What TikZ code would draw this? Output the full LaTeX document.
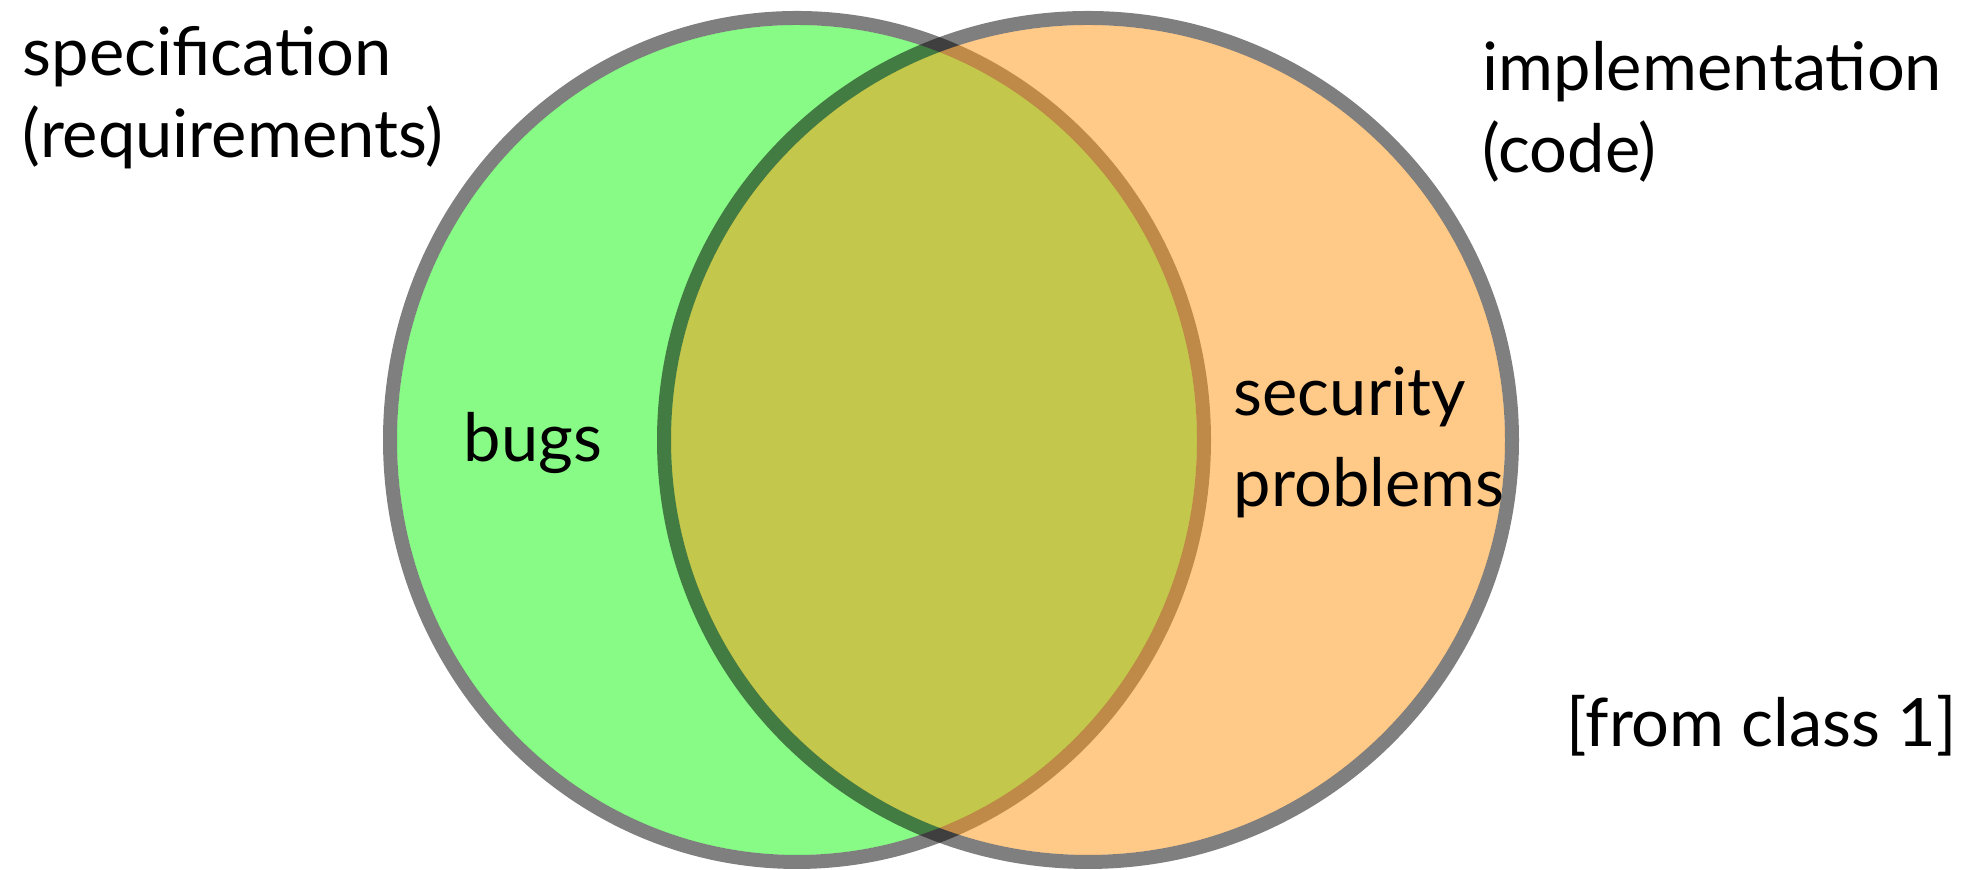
\documentclass[tikz,border=0pt]{standalone}
\usepackage{fontspec}
\setmainfont{Lato}
\usetikzlibrary{shapes.geometric}

\definecolor{specgreen}{RGB}{136,250,134}
\definecolor{implorange}{RGB}{255,149,17}

\tikzset{
  setfill/.style={ellipse, inner sep=0pt, outer sep=0pt},
  setcircle/.style={ellipse, inner sep=0pt, line width=0.14cm,
    draw=black, draw opacity=0.5},
  lbl/.style={inner sep=0pt, anchor=base west, align=left,
    font=\fontsize{19}{23.6}\selectfont}
}

\begin{document}
\begin{tikzpicture}
  \useasboundingbox (0,0) rectangle (19.62,8.70);
  % the two sets: fill inside the ring, then the ring
  \node[setfill, minimum width=8.00cm, minimum height=8.30cm,
    fill=specgreen] (specfill) at (7.97,4.30) {};
  \node[setcircle, minimum width=8.14cm, minimum height=8.44cm]
    (spec) at (specfill.center) {};
  \node[setfill, minimum width=8.34cm, minimum height=8.30cm,
    fill=implorange, fill opacity=0.5] (implfill) at (10.88,4.30) {};
  \node[setcircle, minimum width=8.48cm, minimum height=8.44cm]
    (impl) at (implfill.center) {};
  % labels (base = last line)
  \node[lbl] (speclbl) at (0.22,7.12) {specification\\(requirements)};
  \node[lbl] (impllbl) at (14.82,6.97) {implementation\\(code)};
  \node[lbl] (bugs) at (4.63,4.08) {bugs};
  \node[lbl, font=\fontsize{19}{25.9}\selectfont] (secprob) at (12.33,3.63)
    {security\\problems};
  \node[lbl] (source) at (15.66,1.23) {[from class 1]};
\end{tikzpicture}
\end{document}
